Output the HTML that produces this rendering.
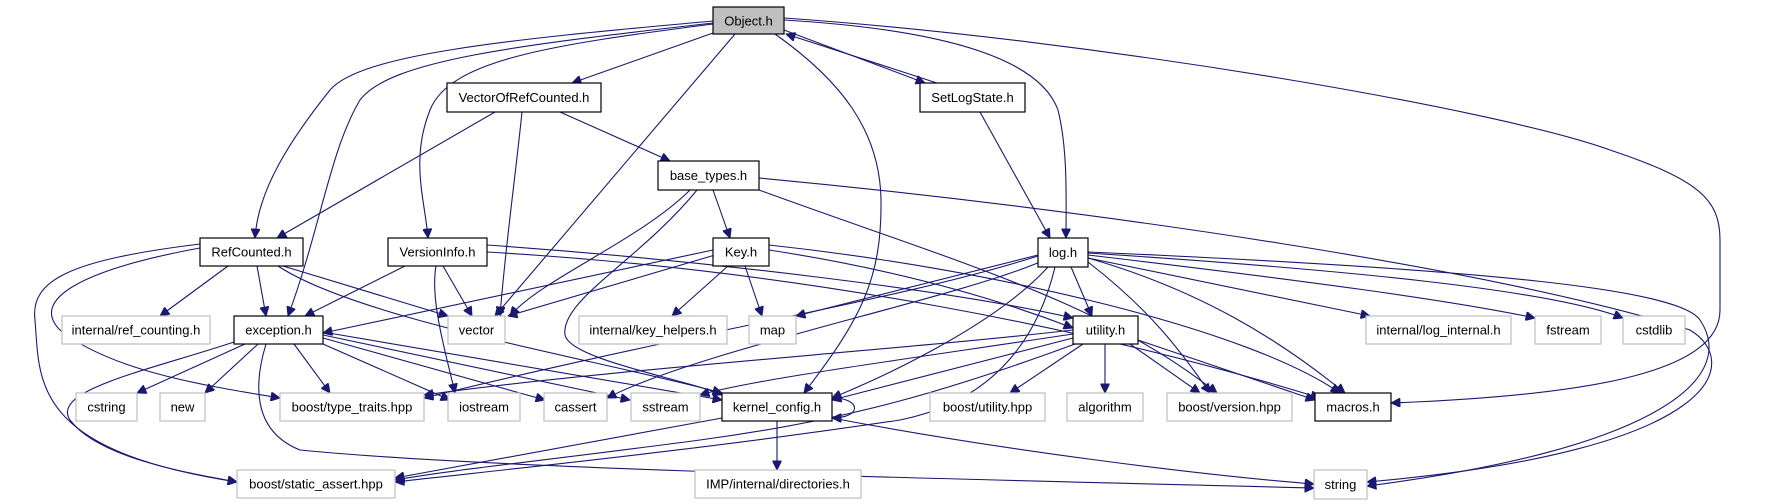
<!DOCTYPE html>
<html><head><meta charset="utf-8"><style>
html,body{margin:0;padding:0;background:#fff;}
svg{display:block;}
text{font-family:"Liberation Sans Narrow","Liberation Sans",sans-serif;font-size:13px;fill:#000;text-anchor:middle;dominant-baseline:central;}
.e{fill:none;stroke:#191970;stroke-width:1.1;marker-end:url(#a);}
.n{fill:#fff;stroke:#000;stroke-width:1.2;}
.g{fill:#fff;stroke:#bfbfbf;stroke-width:1.2;}
</style></head><body>
<svg width="1789" height="504" viewBox="0 0 1789 504" xmlns="http://www.w3.org/2000/svg">
<defs><marker id="a" viewBox="0 0 10 10" refX="10" refY="5" markerWidth="10" markerHeight="9" markerUnits="userSpaceOnUse" orient="auto"><path d="M0,0 L10,5 L0,10 z" fill="#191970" stroke="#191970"/></marker></defs>
<g>
<path class="e" d="M713,21 C500,40 360,55 330,90 C290,140 258,190 255,238"/>
<path class="e" d="M713,23 C520,45 390,60 360,100 C330,150 320,230 288,316"/>
<path class="e" d="M713,24 C550,45 450,60 430,110 C410,160 425,200 428,238"/>
<path class="e" d="M713,33 L572,83"/>
<path class="e" d="M735,34 L495,316"/>
<path class="e" d="M775,34 C840,80 880,130 881,200 C882,280 860,320 804,393"/>
<path class="e" d="M784,20 C950,30 1040,60 1058,110 C1068,150 1066,200 1066,238"/>
<path class="e" d="M784,30 L925,83"/>
<path class="e" d="M937,83 L786,34"/>
<path class="e" d="M784,18 C1100,40 1500,110 1610,150 C1700,180 1720,200 1720,240 L1720,310 C1720,370 1600,395 1391,403"/>
<path class="e" d="M495,112 L277,238"/>
<path class="e" d="M522,112 C515,180 505,250 500,316"/>
<path class="e" d="M560,112 L670,161"/>
<path class="e" d="M980,112 L1050,238"/>
<path class="e" d="M713,190 L730,238"/>
<path class="e" d="M690,190 C640,240 540,280 510,316"/>
<path class="e" d="M697,190 C640,260 560,300 565,335 C570,360 690,380 722,395"/>
<path class="e" d="M759,190 C950,260 1100,300 1217,393"/>
<path class="e" d="M759,178 C1100,210 1500,270 1690,330 C1740,360 1730,450 1367,482"/>
<path class="e" d="M713,250 L323,333"/>
<path class="e" d="M715,255 L508,316"/>
<path class="e" d="M728,266 L672,316"/>
<path class="e" d="M745,266 L762,316"/>
<path class="e" d="M769,250 C900,270 1000,300 1073,328"/>
<path class="e" d="M769,245 C1000,270 1250,330 1340,393"/>
<path class="e" d="M405,266 L305,316"/>
<path class="e" d="M443,266 L472,316"/>
<path class="e" d="M436,266 C430,300 445,350 455,393"/>
<path class="e" d="M487,245 C700,260 950,290 1073,318"/>
<path class="e" d="M487,252 C800,270 1100,330 1320,398"/>
<path class="e" d="M228,266 L160,316"/>
<path class="e" d="M257,266 L266,316"/>
<path class="e" d="M283,266 L448,316"/>
<path class="e" d="M278,266 C360,320 600,360 722,393"/>
<path class="e" d="M200,248 C80,270 30,300 60,330 C110,370 200,385 280,398"/>
<path class="e" d="M200,244 C70,260 30,280 35,320 C40,380 30,450 237,482"/>
<path class="e" d="M245,344 L137,393"/>
<path class="e" d="M258,344 L205,393"/>
<path class="e" d="M294,344 L330,393"/>
<path class="e" d="M323,344 L450,400"/>
<path class="e" d="M323,338 L545,400"/>
<path class="e" d="M323,335 L630,400"/>
<path class="e" d="M323,332 L722,400"/>
<path class="e" d="M234,342 C150,370 50,390 70,420 C100,460 200,475 237,482"/>
<path class="e" d="M266,344 C255,380 250,430 300,450 C500,470 1000,480 1314,488"/>
<path class="e" d="M832,398 C862,398 862,418 832,418"/>
<path class="e" d="M777,421 L777,470"/>
<path class="e" d="M722,418 L395,478"/>
<path class="e" d="M832,418 C1000,450 1200,475 1314,484"/>
<path class="e" d="M1071,267 L1092,316"/>
<path class="e" d="M1038,255 L796,316"/>
<path class="e" d="M1038,256 C900,300 700,330 424,398"/>
<path class="e" d="M1040,262 C950,300 700,350 607,398"/>
<path class="e" d="M1048,267 C1000,320 900,370 832,398"/>
<path class="e" d="M1055,267 C1040,330 1000,400 900,420 C700,450 500,470 395,482"/>
<path class="e" d="M1088,258 C1200,290 1280,340 1345,393"/>
<path class="e" d="M1088,258 L1370,316"/>
<path class="e" d="M1088,255 C1300,280 1450,300 1535,318"/>
<path class="e" d="M1088,253 C1350,270 1550,290 1623,318"/>
<path class="e" d="M1088,252 C1500,270 1680,290 1700,320 C1740,380 1650,450 1367,486"/>
<path class="e" d="M1088,262 C1150,310 1180,350 1210,393"/>
<path class="e" d="M1073,330 C900,350 600,370 424,395"/>
<path class="e" d="M1073,338 L832,400"/>
<path class="e" d="M1075,344 C950,390 850,420 700,440 C550,460 450,470 395,480"/>
<path class="e" d="M1073,334 C900,360 750,380 700,395"/>
<path class="e" d="M1083,344 L1010,393"/>
<path class="e" d="M1105,344 L1105,393"/>
<path class="e" d="M1130,344 L1200,393"/>
<path class="e" d="M1138,340 L1315,400"/>
</g>
<g>
<rect x="713" y="7" width="71" height="27" fill="#bfbfbf" stroke="#000" stroke-width="1.2"/><text x="748.5" y="21">Object.h</text>
<rect class="n" x="447" y="83" width="154" height="29"/><text x="524" y="97.5">VectorOfRefCounted.h</text>
<rect class="n" x="920" y="83" width="105" height="29"/><text x="972.5" y="97.5">SetLogState.h</text>
<rect class="n" x="658" y="161" width="101" height="29"/><text x="708.5" y="175.5">base_types.h</text>
<rect class="n" x="200" y="238" width="103" height="28"/><text x="251.5" y="252">RefCounted.h</text>
<rect class="n" x="388" y="238" width="99" height="28"/><text x="437.5" y="252">VersionInfo.h</text>
<rect class="n" x="713" y="238" width="56" height="28"/><text x="741" y="252">Key.h</text>
<rect class="n" x="1038" y="238" width="50" height="29"/><text x="1063" y="252.5">log.h</text>
<rect class="g" x="62" y="316" width="148" height="28"/><text x="136" y="330">internal/ref_counting.h</text>
<rect class="n" x="234" y="316" width="89" height="28"/><text x="278.5" y="330">exception.h</text>
<rect class="g" x="448" y="316" width="57" height="28"/><text x="476.5" y="330">vector</text>
<rect class="g" x="579" y="316" width="148" height="28"/><text x="653" y="330">internal/key_helpers.h</text>
<rect class="g" x="749" y="316" width="47" height="28"/><text x="772.5" y="330">map</text>
<rect class="n" x="1073" y="316" width="65" height="28"/><text x="1105.5" y="330">utility.h</text>
<rect class="g" x="1366" y="316" width="145" height="28"/><text x="1438.5" y="330">internal/log_internal.h</text>
<rect class="g" x="1535" y="316" width="66" height="28"/><text x="1568" y="330">fstream</text>
<rect class="g" x="1623" y="316" width="62" height="28"/><text x="1654" y="330">cstdlib</text>
<rect class="g" x="76" y="393" width="61" height="28"/><text x="106.5" y="407">cstring</text>
<rect class="g" x="160" y="393" width="45" height="28"/><text x="182.5" y="407">new</text>
<rect class="g" x="280" y="393" width="144" height="28"/><text x="352" y="407">boost/type_traits.hpp</text>
<rect class="g" x="448" y="393" width="72" height="28"/><text x="484" y="407">iostream</text>
<rect class="g" x="544" y="393" width="63" height="28"/><text x="575.5" y="407">cassert</text>
<rect class="g" x="631" y="393" width="69" height="28"/><text x="665.5" y="407">sstream</text>
<rect class="n" x="722" y="393" width="110" height="28"/><text x="777" y="407">kernel_config.h</text>
<rect class="g" x="930" y="393" width="115" height="28"/><text x="987.5" y="407">boost/utility.hpp</text>
<rect class="g" x="1067" y="393" width="76" height="28"/><text x="1105" y="407">algorithm</text>
<rect class="g" x="1167" y="393" width="125" height="28"/><text x="1229.5" y="407">boost/version.hpp</text>
<rect class="n" x="1315" y="393" width="76" height="28"/><text x="1353" y="407">macros.h</text>
<rect class="g" x="237" y="470" width="158" height="28"/><text x="316" y="484">boost/static_assert.hpp</text>
<rect class="g" x="695" y="470" width="166" height="28"/><text x="778" y="484">IMP/internal/directories.h</text>
<rect class="g" x="1314" y="470" width="53" height="29"/><text x="1340.5" y="484.5">string</text>
</g>
</svg>
</body></html>
